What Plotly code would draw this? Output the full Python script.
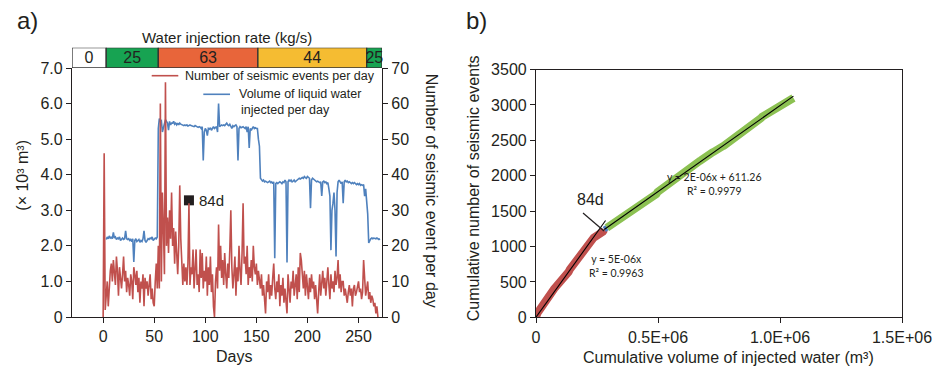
import numpy as np
import plotly.graph_objects as go

# ---------------------------------------------------------------- data
# Daily number of seismic events, day 0 .. 269
events_per_day = [
    0, 46, 2, 5, 10, 3, 9, 13, 15, 10,
    16, 12, 9, 17, 13, 6, 14, 11, 8, 12,
    17, 10, 13, 7, 11, 9, 6, 12, 10, 5,
    14, 12, 9, 13, 7, 11, 4, 10, 8, 12,
    3, 11, 8, 10, 6, 9, 12, 5, 8, 4,
    3, 10, 15, 8,
    20, 8, 60, 10, 35, 25, 12, 66, 20, 28,
    18, 30, 22, 35, 20, 25, 15, 24, 18, 12,
    20, 37, 22, 12, 9, 15, 10, 14, 9, 15, 32,
    9, 14, 12, 19, 8, 15, 19, 9, 12, 7,
    19, 11, 18, 8, 13, 10, 17, 6, 14, 9,
    17, 7, 12, 3, 0, 10, 14, 8, 26, 13,
    20, 11, 16, 9, 18, 12, 8, 15, 11, 19,
    30, 14, 8, 12, 17, 6, 14, 10, 20, 13,
    9, 18, 32, 15, 17, 12, 20, 9, 14, 11,
    16, 10, 20, 14, 12, 15, 9, 13, 10, 8,
    12, 6, 9, 4, 1, 10, 7, 12, 5, 9,
    6, 11, 15, 8, 5, 10, 7, 12, 3, 9,
    6, 11, 4, 8, 5, 1, 12, 7, 4, 10,
    8, 13, 6, 9, 12, 5, 14, 7, 18, 16,
    10, 8, 13, 6, 12, 9, 5, 11, 7, 12,
    8, 10, 5, 9, 4, 1, 7, 12, 6, 10,
    13, 8, 11, 6, 10, 14, 9, 5, 12, 8,
    10, 7, 13, 9, 11, 16, 8, 12, 7, 10,
    10, 6, 8, 5, 4, 7, 9, 6, 8, 3,
    8, 9, 6, 7, 9, 10, 7, 8, 5, 7,
    16, 9, 6, 8, 10, 5, 7, 4, 6, 5,
    3, 4, 1, 3, 0,
]

# Daily volume of injected liquid water (x 10^3 m^3), day 0 .. 271
water_per_day = [
    None, None, None,
    2.18, 2.25, 2.20, 2.28, 2.22, 2.24, 2.20, 2.38, 2.22, 2.25,
    2.18, 2.22, 2.20, 2.25, 2.15, 2.20, 2.22, 2.18, 2.20, 2.42,
    2.20, 2.18, 2.20, 2.15, 2.18, 2.12, 2.20, 1.55, 2.15, 2.20,
    2.12, 2.15, 2.18, 2.10, 2.15, 2.12, 2.20, 2.42, 2.15, 2.10,
    2.15, 2.20, 2.18, 2.22, 2.20, 2.25, 2.15, 2.20, 2.22, 2.20, 2.25,
    5.30, 5.58, 5.50, 5.52, 5.20, 5.35, 5.45, 5.55, 5.50, 5.45,
    5.25, 5.50, 5.40, 5.45, 5.45, 5.50, 5.42, 5.45, 5.40, 5.45,
    5.40, 5.45, 5.42, 5.40, 5.40, 5.38, 5.40, 5.38, 5.40, 5.37,
    5.38, 5.40, 5.38, 5.37, 5.36, 5.35, 5.38, 5.36, 5.35, 5.33,
    5.35, 5.34, 5.30, 5.35, 4.40, 5.20, 5.30, 5.25, 5.10, 5.30,
    5.28, 5.32, 5.25, 5.30, 5.35, 5.30, 5.32, 5.35, 5.20, 6.00,
    5.35, 5.38, 5.40, 5.38, 5.40, 5.38, 5.42, 5.45, 5.40, 5.38,
    5.42, 5.35, 5.30, 5.38, 5.35, 5.38, 5.40, 5.35, 4.40, 5.30,
    5.35, 5.32, 5.35, 5.35, 5.32, 5.30, 5.35, 5.20, 5.35, 4.75,
    5.30, 5.25, 5.30, 5.35, 5.30, 5.32, 5.30, 5.30, 5.00, 4.80,
    3.90, 3.85, 3.82, 3.85, 3.80, 3.82, 3.80, 3.78, 3.80, 3.82,
    3.78, 3.80, 3.75, 3.80, 1.65, 3.75, 3.78, 3.75, 3.78, 3.80,
    3.78, 3.75, 3.80, 3.78, 3.85, 3.80, 1.53, 3.80, 3.85, 3.82,
    3.85, 3.80, 3.82, 3.85, 3.80, 3.82, 3.85, 3.88, 3.90, 3.88,
    3.90, 3.92, 3.90, 3.95, 3.92, 3.90, 3.95, 3.92, 3.90, 3.06,
    3.85, 3.90, 3.88, 3.85, 3.82, 3.80, 3.82, 3.80, 3.78, 3.80,
    3.40, 3.80, 3.82, 3.78, 3.80, 3.75, 3.78, 3.60, 3.40, 1.88,
    3.00, 3.20, 3.50, 3.00, 1.70, 3.50, 3.80, 3.85, 3.80, 3.75,
    3.80, 3.20, 3.80, 3.85, 3.80, 3.82, 3.78, 3.80, 3.78, 3.75,
    3.78, 3.75, 3.78, 3.75, 3.72, 3.75, 3.72, 3.75, 3.70, 3.72,
    3.70, 3.72, 3.40, 3.60, 3.30, 2.90,
    2.08, 2.15, 2.20, 2.22, 2.20, 2.22, 2.20, 2.20, 2.22, 2.20, 2.18, 2.20,
]

# Injection-rate schedule (kg/s)
rate_labels = ["0", "25", "63", "44", "25"]
rate_colors = ["#ffffff", "#17a352", "#e8653a", "#f5bc32", "#17a352"]
rate_change_days = [3, 54, 151.5, 258]

# Day of the change in seismic response
break_day = 84
break_level = 3.28

# Fit statistics
fit_labels = ["y = 5E-06x<br>R\u00b2 = 0.9963", "y = 2E-06x + 611.26<br>R\u00b2 = 0.9979"]

days_ticks = [0, 50, 100, 150, 200, 250]
vol_ticks = [0, 1, 2, 3, 4, 5, 6, 7]
vol_ticktext = ["0", "1.0", "2.0", "3.0", "4.0", "5.0", "6.0", "7.0"]
ev_ticks = [0, 10, 20, 30, 40, 50, 60, 70]
cum_x_ticks = [0, 5e5, 1e6, 1.5e6]
cum_x_ticktext = ["0", "0.5E+06", "1.0E+06", "1.5E+06"]
cum_y_ticks = [0, 500, 1000, 1500, 2000, 2500, 3000, 3500]

# ---------------------------------------------------------------- layout helpers
W, H = 948, 368
DAY_RANGE = [-30.5, 273]


def fx(p):
    return p / W


def fy(p):
    return 1 - p / H


FONT = "Liberation Sans, Arial, sans-serif"
INK = "#231f20"
RED = "#c0504d"
BLUE = "#4f81bd"
GREEN = "#8cc152"

days_ev = np.arange(len(events_per_day))
days_w = np.arange(len(water_per_day))

fig = go.Figure()

# ---------------------------------------------------------------- panel a
fig.add_trace(go.Scatter(x=days_w, y=water_per_day, mode="lines",
                         line=dict(color=BLUE, width=1.6),
                         xaxis="x", yaxis="y", showlegend=False))
fig.add_trace(go.Scatter(x=days_ev, y=events_per_day, mode="lines",
                         line=dict(color=RED, width=1.6),
                         xaxis="x", yaxis="y2", showlegend=False))
fig.add_trace(go.Scatter(x=[break_day], y=[break_level], mode="markers",
                         marker=dict(symbol="square", size=10, color=INK),
                         xaxis="x", yaxis="y", showlegend=False))

# injection-rate bar above panel a
edges = [DAY_RANGE[0]] + rate_change_days + [DAY_RANGE[1]]
starts = edges[:-1]
widths = [b - a for a, b in zip(edges[:-1], edges[1:])]
fig.add_trace(go.Bar(
    x=widths, base=starts, y=[0] * len(widths), orientation="h", width=1,
    marker=dict(color=rate_colors, line=dict(color="#333333", width=1.3)),
    text=rate_labels, textposition="inside", insidetextanchor="middle",
    textangle=0, constraintext="none",
    textfont=dict(size=16, color=INK, family=FONT),
    xaxis="x3", yaxis="y3", showlegend=False, cliponaxis=False))

# ---------------------------------------------------------------- panel b
water_filled = np.array([0.0 if v is None else v for v in water_per_day[:len(events_per_day)]])
cum_vol = np.cumsum(water_filled) * 1000.0
cum_ev = np.cumsum(events_per_day).astype(float)

b = break_day
fig.add_trace(go.Scatter(x=cum_vol[:b + 1], y=cum_ev[:b + 1], mode="lines",
                         line=dict(color=RED, width=8), xaxis="x4", yaxis="y4",
                         showlegend=False))
fig.add_trace(go.Scatter(x=cum_vol[b + 2:], y=cum_ev[b + 2:], mode="lines",
                         line=dict(color=GREEN, width=8), xaxis="x4", yaxis="y4",
                         showlegend=False))
fig.add_trace(go.Scatter(x=cum_vol[b:b + 3], y=cum_ev[b:b + 3], mode="lines",
                         line=dict(color=BLUE, width=6), xaxis="x4", yaxis="y4",
                         showlegend=False))

# least-squares fits: through the origin before the break, linear after it
xa, ya = cum_vol[:b + 1], cum_ev[:b + 1]
k1 = float(np.sum(xa * ya) / np.sum(xa * xa))
xb, yb = cum_vol[b + 2:], cum_ev[b + 2:]
k2, c2 = np.polyfit(xb, yb, 1)
fx1 = np.array([0.0, cum_vol[b + 1]])
fx2 = np.array([cum_vol[b], cum_vol[-1]])
fig.add_trace(go.Scatter(x=fx1, y=k1 * fx1, mode="lines",
                         line=dict(color="black", width=1.1),
                         xaxis="x4", yaxis="y4", showlegend=False))
fig.add_trace(go.Scatter(x=fx2, y=k2 * fx2 + c2, mode="lines",
                         line=dict(color="black", width=1.1),
                         xaxis="x4", yaxis="y4", showlegend=False))

# ---------------------------------------------------------------- axes
axis_common = dict(showline=True, linecolor=INK, linewidth=1.2, ticks="outside",
                   ticklen=5, tickwidth=1.2, tickcolor=INK, showgrid=False,
                   zeroline=False, automargin=False,
                   tickfont=dict(size=16, color=INK, family=FONT))

A_X = [fx(72), fx(382)]
A_Y = [fy(317), fy(68)]
BAR_Y = [fy(68), fy(47.7)]
B_X = [fx(536), fx(902)]
B_Y = [fy(317.3), fy(69.5)]

fig.update_layout(
    width=W, height=H,
    margin=dict(l=0, r=0, t=0, b=0, pad=0, autoexpand=False),
    paper_bgcolor="white", plot_bgcolor="white",
    font=dict(family=FONT, color=INK),
    uniformtext=dict(minsize=16, mode="show"),
    xaxis=dict(domain=A_X, range=DAY_RANGE, anchor="y", tickvals=days_ticks, **axis_common),
    yaxis=dict(domain=A_Y, range=[0, 7], anchor="x", tickvals=vol_ticks,
               ticktext=vol_ticktext, **axis_common),
    yaxis2=dict(overlaying="y", side="right", anchor="x", range=[0, 70],
                tickvals=ev_ticks, **axis_common),
    xaxis3=dict(domain=A_X, range=DAY_RANGE, anchor="y3", visible=False, automargin=False),
    yaxis3=dict(domain=BAR_Y, range=[-0.5, 0.5], anchor="x3", visible=False, automargin=False),
    xaxis4=dict(domain=B_X, range=[0, 1.5e6], anchor="y4", tickvals=cum_x_ticks,
                ticktext=cum_x_ticktext, mirror=True, **axis_common),
    yaxis4=dict(domain=B_Y, range=[0, 3500], anchor="x4", tickvals=cum_y_ticks,
                mirror=True, **axis_common),
)

# ---------------------------------------------------------------- text
def note(text, x, y, size=16, angle=0, anchor="center", family=FONT, color=INK):
    fig.add_annotation(text=text, x=fx(x), y=fy(y), xref="paper", yref="paper",
                       showarrow=False, textangle=angle, xanchor=anchor,
                       yanchor="middle", font=dict(size=size, family=family, color=color))


note("a)", 27, 20, size=24)
note("b)", 476, 20, size=24)
note("Water injection rate (kg/s)", 226.7, 37, size=15)
note("(\u00d7 10\u00b3 m\u00b3)", 21.7, 175, size=16, angle=-90)
note("Number of seismic event per day", 431.7, 190.5, size=16, angle=90)
note("Days", 234, 356, size=16)
note("84d", 196.5, 200, size=15, anchor="left")
note("Cumulative number of seismic events", 473.3, 188, size=16, angle=-90)
note("Cumulative volume of injected water (m\u00b3)", 728, 357, size=16)
note("84d", 590, 199, size=16)

# legend for panel a
note("Number of seismic events per day", 183.3, 75.7, size=12.5, anchor="left")
note("Volume of liquid water", 236.7, 94, size=12.5, anchor="left")
note("injected per day", 239.3, 110, size=12.5, anchor="left")
fig.add_shape(type="line", xref="paper", yref="paper", x0=fx(151.7), x1=fx(178.3),
              y0=fy(75.7), y1=fy(75.7), line=dict(color=RED, width=1.6))
fig.add_shape(type="line", xref="paper", yref="paper", x0=fx(203.3), x1=fx(230),
              y0=fy(94.3), y1=fy(94.3), line=dict(color=BLUE, width=1.6))

# leader from the 84d label to the break point
fig.add_shape(type="line", xref="paper", yref="paper", x0=fx(583), y0=fy(213),
              x1=fx(604), y1=fy(231), line=dict(color=INK, width=1.2))

# fit equations
for txt, (cx, cy) in zip(fit_labels, [(616, 281), (763, 183.5)]):
    fig.add_annotation(text=txt, x=fx(cx), y=fy(cy), xref="paper", yref="paper",
                       showarrow=False, align="center",
                       font=dict(size=10.5, family="Lato, Open Sans, sans-serif", color=INK))

fig.write_html("out.html")
